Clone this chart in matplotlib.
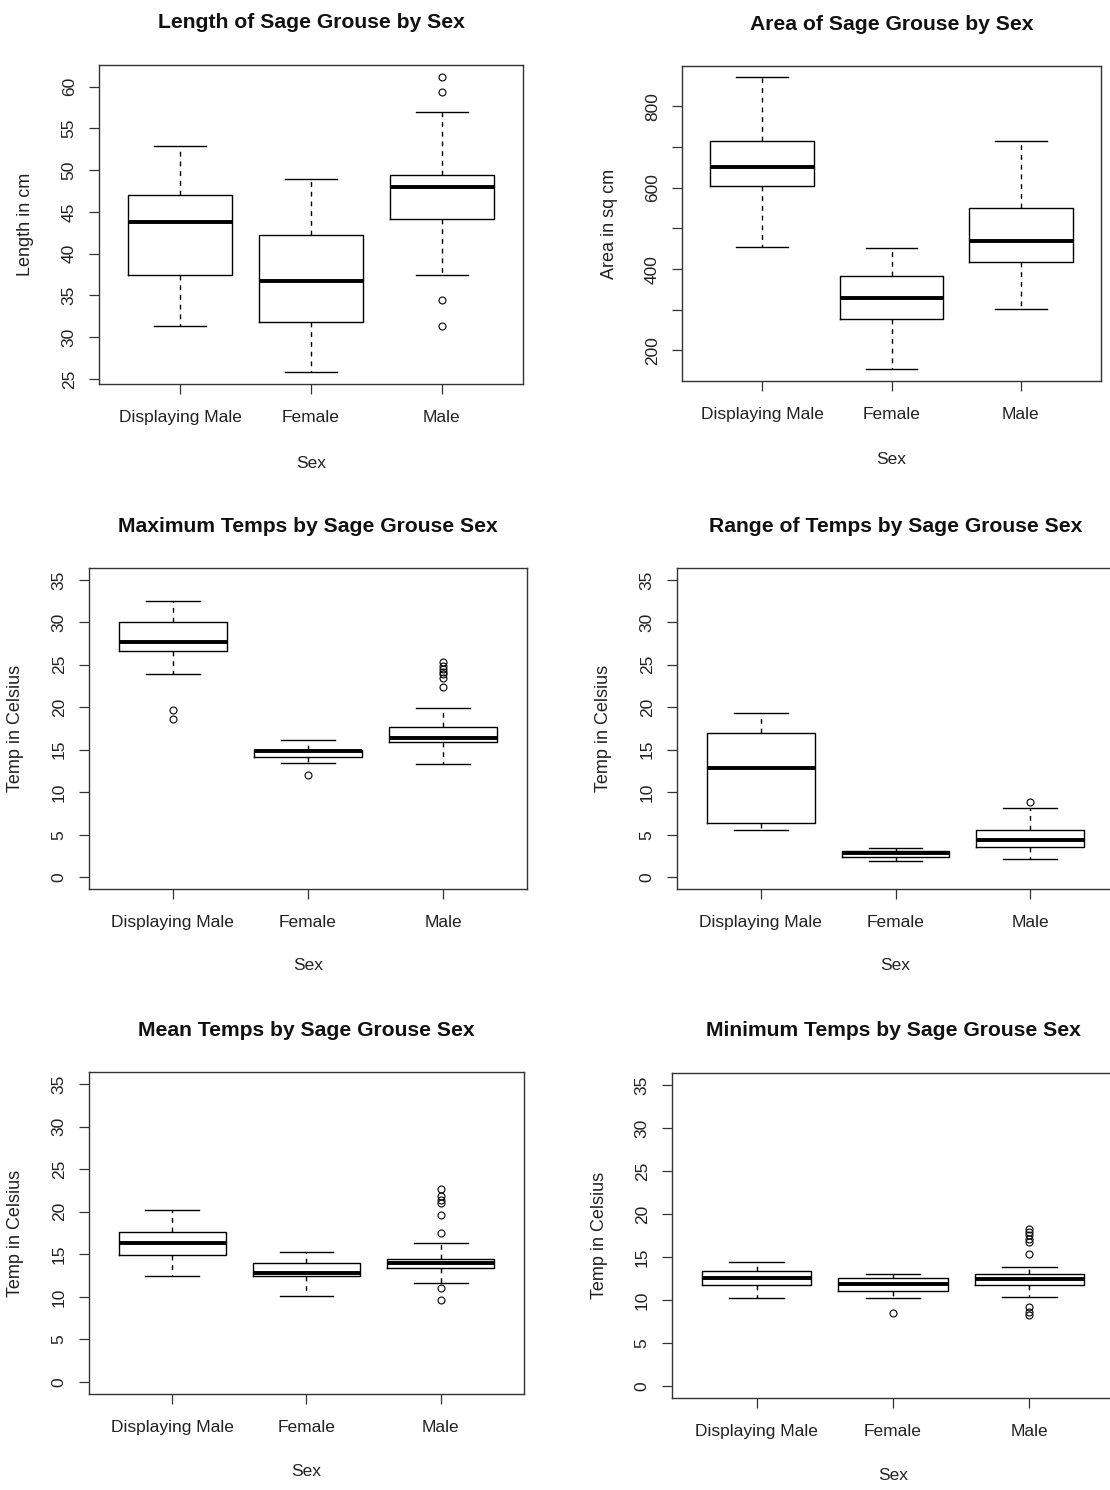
import matplotlib
matplotlib.use('Agg')
import matplotlib.pyplot as plt

plt.rcParams['font.family'] = ['Liberation Sans', 'DejaVu Sans']

sexes = ['Displaying Male', 'Female', 'Male']

# five-number summaries per sex: [lower whisker, Q1, median, Q3, upper whisker]
length_box = [[31.3, 37.5, 43.8, 47.0, 52.9],
              [25.8, 31.8, 36.7, 42.2, 48.9],
              [37.5, 44.2, 48.0, 49.4, 57.0]]
length_out = [[], [], [61.2, 59.4, 34.4, 31.3]]

area_box = [[455, 603, 651, 715, 871],
            [154, 277, 330, 382, 453],
            [303, 417, 469, 550, 715]]
area_out = [[], [], []]

max_box = [[23.9, 26.6, 27.7, 30.1, 32.5],
           [13.4, 14.2, 14.8, 15.0, 16.2],
           [13.3, 15.9, 16.4, 17.7, 19.9]]
max_out = [[19.7, 18.6], [12.0], [25.3, 24.9, 24.5, 24.2, 23.9, 23.4, 22.4]]

range_box = [[5.6, 6.4, 12.9, 17.0, 19.3],
             [1.85, 2.4, 2.85, 3.1, 3.45],
             [2.1, 3.6, 4.4, 5.55, 8.1]]
range_out = [[], [], [8.9]]

mean_box = [[12.5, 14.9, 16.3, 17.6, 20.2],
            [10.1, 12.4, 12.85, 14.0, 15.3],
            [11.6, 13.4, 14.0, 14.5, 16.3]]
mean_out = [[], [], [22.7, 21.8, 21.4, 21.0, 19.6, 17.5, 11.05, 9.6]]

min_box = [[10.2, 11.7, 12.5, 13.4, 14.4],
           [10.2, 11.0, 11.85, 12.6, 13.0],
           [10.3, 11.7, 12.4, 13.0, 13.8]]
min_out = [[], [8.5], [18.2, 17.9, 17.6, 17.15, 16.7, 15.3, 9.15, 8.6, 8.2]]

temp_ticks = [0, 5, 10, 15, 20, 25, 30, 35]

W, H = 1110, 1490
fig = plt.figure(figsize=(W / 100, H / 100), dpi=100)

# title, data, outliers, ylabel, ylim, yticks, ytick labels, pixel box (l, t, r, b), title y, xlabel y, ylabel x
panels = [
    ('Length of Sage Grouse by Sex', length_box, length_out, 'Length in cm', (24.4, 62.6),
     [25, 30, 35, 40, 45, 50, 55, 60], None, (99, 65, 523, 384), 22, 463, 25),
    ('Area of Sage Grouse by Sex', area_box, area_out, 'Area in sq cm', (125, 899),
     [200, 300, 400, 500, 600, 700, 800], ['200', '', '400', '', '600', '', '800'], (682, 66, 1101, 381), 24, 459, 609),
    ('Maximum Temps by Sage Grouse Sex', max_box, max_out, 'Temp in Celsius', (-1.4, 36.4),
     temp_ticks, None, (89, 568, 527, 889), 526, 966, 16),
    ('Range of Temps by Sage Grouse Sex', range_box, range_out, 'Temp in Celsius', (-1.4, 36.4),
     temp_ticks, None, (677, 568, 1114, 889), 526, 966, 604),
    ('Mean Temps by Sage Grouse Sex', mean_box, mean_out, 'Temp in Celsius', (-1.4, 36.4),
     temp_ticks, None, (89, 1072, 524, 1394), 1030, 1471, 16),
    ('Minimum Temps by Sage Grouse Sex', min_box, min_out, 'Temp in Celsius', (-1.4, 36.4),
     temp_ticks, None, (672, 1073, 1114, 1398), 1030, 1476, 599),
]

for title, box, out, ylab, ylim, yt, ytl, (l, t, r, b), ty, xly, ylx in panels:
    ax = fig.add_axes([l / W, 1 - b / H, (r - l) / W, (b - t) / H])
    stats = []
    for name, s, o in zip(sexes, box, out):
        stats.append({'label': name, 'whislo': s[0], 'q1': s[1], 'med': s[2],
                      'q3': s[3], 'whishi': s[4], 'fliers': o})
    ax.bxp(stats, positions=[1, 2, 3], widths=0.8, showfliers=True,
           boxprops=dict(color='black', lw=1.0),
           medianprops=dict(color='black', lw=2.8, solid_capstyle='butt'),
           whiskerprops=dict(color='black', lw=1.0, linestyle=(0, (3.5, 3.5))),
           capprops=dict(color='black', lw=1.0),
           capwidths=0.4,
           flierprops=dict(marker='o', markersize=5, markerfacecolor='none',
                           markeredgecolor='black', markeredgewidth=0.8, linestyle='none'))
    ax.set_xlim(0.38, 3.62)
    ax.set_ylim(*ylim)
    ax.set_yticks(yt)
    ax.set_yticklabels(ytl if ytl else [str(v) for v in yt], rotation=90, va='center')
    ax.set_xticks([1, 2, 3])
    ax.set_xticklabels(sexes)
    ax.tick_params(axis='both', direction='out', length=7, width=0.9, colors='#333333',
                   labelsize=12.5, labelcolor='#222222')
    ax.tick_params(axis='x', pad=12)
    ax.tick_params(axis='y', pad=9)
    for sp in ax.spines.values():
        sp.set_color('#333333')
        sp.set_linewidth(1.0)
    hx = r - l
    hy = b - t
    ax.text(0.5, (b - ty) / hy, title, transform=ax.transAxes, ha='center', va='center',
            fontsize=15.2, fontweight='bold', color='#111111')
    ax.text(0.5, (b - xly) / hy, 'Sex', transform=ax.transAxes, ha='center', va='center',
            fontsize=12.5, color='#222222')
    ax.text((ylx - l) / hx, 0.5, ylab, transform=ax.transAxes, ha='center', va='center',
            rotation=90, fontsize=13, color='#222222')

fig.savefig('out.png', dpi=100)
